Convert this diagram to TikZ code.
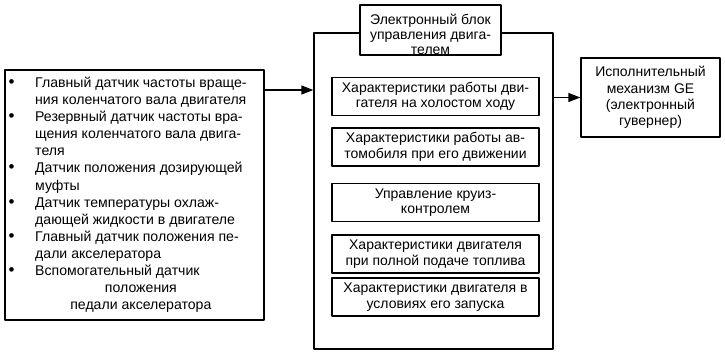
\documentclass[tikz,border=0pt]{standalone}
\usepackage{fontspec}
\setmainfont{Liberation Sans}
\usetikzlibrary{arrows.meta}
\newcommand{\listdot}{{\fontsize{17}{17}\selectfont\textbullet}}

\begin{document}
\begin{tikzpicture}[
  x=1pt,
  y=-1pt,
  line join=round,
  box/.style={draw=black,line width=1.4pt,fill=white,inner sep=0pt},
  boxtext/.style={font=\fontsize{14}{15.5}\selectfont,align=center},
  link/.style={draw=black,line width=1.4pt,-{Triangle[length=12pt,width=9pt]}}
]
  \useasboundingbox (0,0) rectangle (725,355);

  % Sensor list on the left.
  \node[box,minimum width=259pt,minimum height=250pt] (sensors) at (134.5,195) {};
  \node[anchor=base west,inner sep=0pt,font=\fontsize{14.1}{17.1}\selectfont] (sensorlist) at (8.5,87.5) {%
    \begin{tabular}[t]{@{}p{26.5pt}@{}l@{}}
      \listdot & Главный датчик частоты враще-\\
               & ния коленчатого вала двигателя\\
      \listdot & Резервный датчик частоты вра-\\
               & щения коленчатого вала двига-\\
               & теля\\
      \listdot & Датчик положения дозирующей\\
               & муфты\\
      \listdot & Датчик температуры охлаж-\\
               & дающей жидкости в двигателе\\
      \listdot & Главный датчик положения пе-\\
               & дали акселератора\\
      \listdot & Вспомогательный датчик\\
               & \multicolumn{1}{c}{положения}\\
               & \multicolumn{1}{c}{педали акселератора}
    \end{tabular}};

  % Control unit frame with its heading box on the top edge.
  \node[box,minimum width=239pt,minimum height=316pt] (ecu) at (433.5,191) {};
  \node[box,minimum width=141pt,minimum height=50pt] (ecuhead) at (430.5,30) {};
  \node[boxtext,anchor=base,inner sep=0pt] (ecuheadtext) at (430.5,25) {%
    \begin{tabular}[t]{@{}c@{}}
      Электронный блок\\[-0.5pt]
      управления двига-\\[-0.5pt]
      телем
    \end{tabular}};

  % Operating modes stored in the unit.
  \foreach \yc/\txt [count=\i] in {
      96.5/{Характеристики работы дви-\\гателя на холостом ходу},
      147/{Характеристики работы ав-\\томобиля при его движении},
      202.5/{Управление круиз-\\контролем},
      254/{Характеристики двигателя\\при полной подаче топлива},
      297/{Характеристики двигателя в\\условиях его запуска}} {
    \node[box,boxtext,minimum width=207pt,minimum height=38pt] (mode\i) at (435.5,\yc) {\txt};
  }

  % Actuator on the right.
  \node[box,boxtext,font=\fontsize{14}{16.4}\selectfont,minimum width=139pt,minimum height=79pt] (governor) at (650.5,97.5)
    {Исполнительный\\механизм GE\\(электронный\\гувернер)};

  % Signal flow.
  \coordinate (inlevel) at (0,90);
  \draw[link] (sensors.east |- inlevel) -- (ecu.west |- inlevel);
  \draw[link] (ecu.east |- governor.west) -- (governor.west);
\end{tikzpicture}
\end{document}
